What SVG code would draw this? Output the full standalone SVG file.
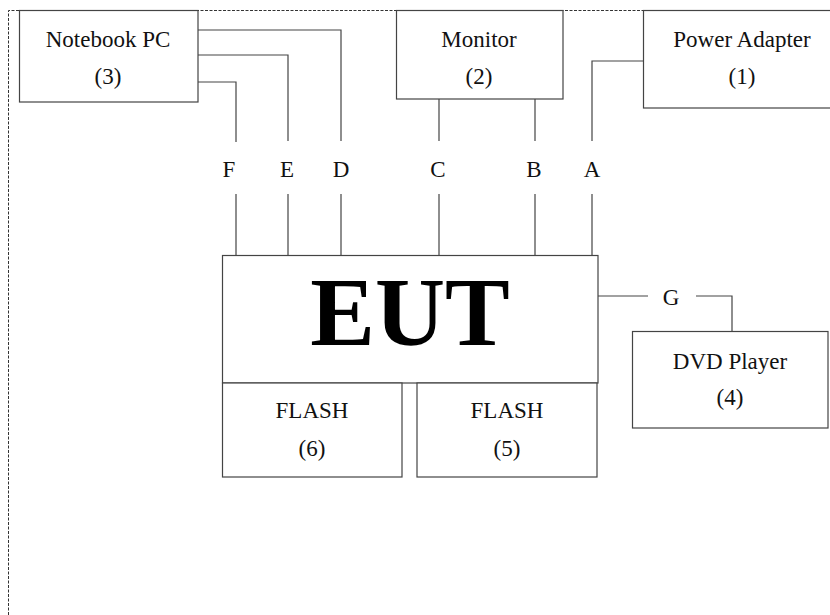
<svg xmlns="http://www.w3.org/2000/svg" width="830" height="615" viewBox="0 0 830 615">
<style>
.box{fill:#fff;stroke:#444;stroke-width:1.2}
.ln{fill:none;stroke:#444;stroke-width:1.2}
.t{font-family:"Liberation Serif","Times New Roman",serif;font-size:23px;fill:#111;text-anchor:middle}
.eut{font-family:"Liberation Serif","Times New Roman",serif;font-size:97px;font-weight:bold;fill:#000;text-anchor:middle}
</style>
<rect x="0" y="0" width="830" height="615" fill="#fff"/>
<path d="M8.5 615 V10.5 H830" fill="none" stroke="#333" stroke-width="1" stroke-dasharray="3,1.5"/>
<g id="connectors">
<path class="ln" d="M198 30 H341 V141"/>
<path class="ln" d="M198 55 H288 V141"/>
<path class="ln" d="M198 82 H236 V142"/>
<path class="ln" d="M439 99 V141"/>
<path class="ln" d="M535 99 V141"/>
<path class="ln" d="M643 61 H592 V141"/>
<path class="ln" d="M236 194 V255 M288 194 V255 M341 194 V255 M439 194 V255 M535 194 V255 M592 194 V255"/>
<path class="ln" d="M598 296 H648 M696 296 H732 V331"/>
<text class="t" x="229" y="177">F</text>
<text class="t" x="287" y="177">E</text>
<text class="t" x="341" y="177">D</text>
<text class="t" x="438" y="177">C</text>
<text class="t" x="534" y="177">B</text>
<text class="t" x="592" y="177">A</text>
<text class="t" x="671" y="305">G</text>
</g>
<g id="notebook">
<rect class="box" x="19.5" y="10.5" width="178.5" height="91.5"/>
<text class="t" x="108" y="47">Notebook PC</text>
<text class="t" x="108" y="84">(3)</text>
</g>
<g id="monitor">
<rect class="box" x="396.5" y="10.5" width="166.5" height="88.5"/>
<text class="t" x="479" y="47">Monitor</text>
<text class="t" x="479" y="84">(2)</text>
</g>
<g id="power">
<rect class="box" x="643.5" y="10.5" width="195" height="97.5"/>
<text class="t" x="742" y="47">Power Adapter</text>
<text class="t" x="742" y="84">(1)</text>
</g>
<g id="eut">
<rect class="box" x="222.5" y="255.5" width="375.5" height="127.5"/>
<text class="eut" x="410" y="345">EUT</text>
</g>
<g id="flash6">
<rect class="box" x="222.5" y="383" width="179.5" height="94"/>
<text class="t" x="312" y="418">FLASH</text>
<text class="t" x="312" y="456">(6)</text>
</g>
<g id="flash5">
<rect class="box" x="417" y="383" width="180" height="94"/>
<text class="t" x="507" y="418">FLASH</text>
<text class="t" x="507" y="456">(5)</text>
</g>
<g id="dvd">
<rect class="box" x="632.5" y="331.5" width="195.5" height="96.5"/>
<text class="t" x="730" y="369">DVD Player</text>
<text class="t" x="730" y="405">(4)</text>
</g>
</svg>
